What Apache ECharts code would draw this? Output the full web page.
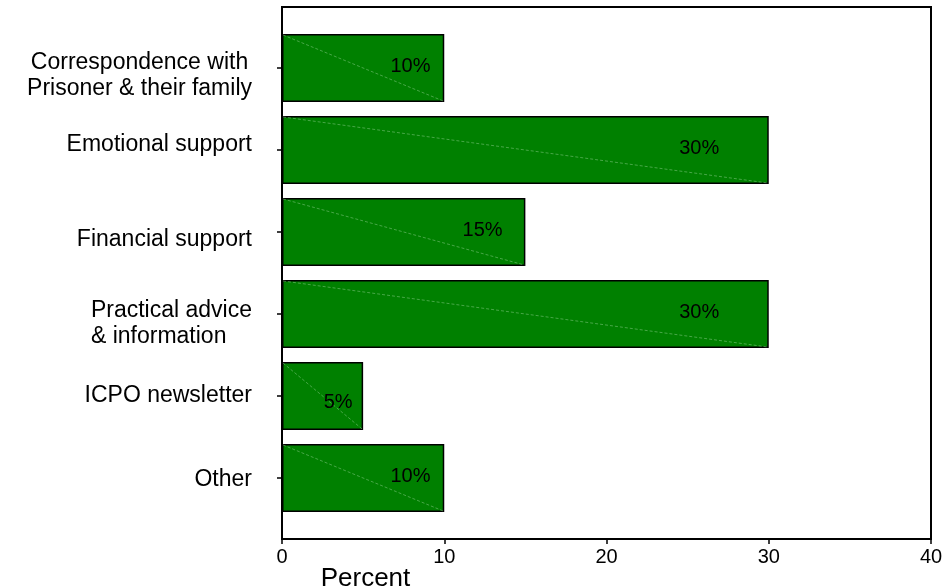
<!DOCTYPE html>
<html><head><meta charset="utf-8">
<script src="https://cdn.jsdelivr.net/npm/echarts/dist/echarts.min.js"></script>
<style>html,body{margin:0;padding:0;background:#fff}#c{width:945px;height:588px}</style>
</head><body><div id="c"></div>
<script>
// ---- data ----
const categories = ['Correspondence with\nPrisoner & their family', 'Emotional support', 'Financial support', 'Practical advice\n& information', 'ICPO newsletter', 'Other'];
const values = [10, 30, 15, 30, 5, 10];
const valueLabels = ['10%', '30%', '15%', '30%', '5%', '10%'];
const xMin = 0, xMax = 40, xStep = 10;
const xAxisName = 'Percent';

// ---- styling helpers (not data) ----
const FONT = '"Liberation Sans", Arial, sans-serif';
const lineAlign = { 0: 'ctr', 3: 'lft' };
const labelPad = { 0: [16, 0, 0, 0], 1: [0, 0, 10, 0], 2: [16, 0, 0, 0], 3: [20, 0, 0, 0], 5: [4, 0, 0, 0] };
const BAR_FRAC = 0.83;

const chart = echarts.init(document.getElementById('c'), null, { renderer: 'canvas' });
const richBase = { fontSize: 23, lineHeight: 26, fontFamily: FONT, color: '#000' };

chart.setOption({
  animation: false,
  backgroundColor: '#fff',
  grid: [
    { left: 282, right: 14, top: 27, height: 492, containLabel: false, outerBoundsMode: 'none' },
    { left: 282, right: 14, top: 7, bottom: 49, show: true, borderColor: '#000', borderWidth: 2, backgroundColor: 'transparent', outerBoundsMode: 'none' }
  ],
  xAxis: [
    {
      type: 'value', gridIndex: 0, min: xMin, max: xMax, interval: xStep, offset: 20,
      axisLine: { show: true, lineStyle: { color: '#000', width: 2 } },
      axisTick: { show: true, length: 5, lineStyle: { color: '#000', width: 1.5 } },
      axisLabel: { fontSize: 20, color: '#000', fontFamily: FONT, margin: 8 },
      splitLine: { show: false },
      name: xAxisName, nameLocation: 'middle', nameGap: 27, nameMoveOverlap: false,
      nameTextStyle: { fontSize: 26, color: '#000', fontFamily: FONT, padding: [0, 482, 0, 0] }
    },
    { type: 'value', gridIndex: 1, min: xMin, max: xMax, show: false }
  ],
  yAxis: [
    {
      type: 'category', gridIndex: 0, inverse: true,
      data: categories.map((c, i) => ({ value: c, textStyle: { padding: labelPad[i] || 0 } })),
      axisLine: { show: false },
      axisTick: { show: true, alignWithLabel: true, length: 5, lineStyle: { color: '#000', width: 1.5 } },
      axisLabel: {
        margin: 30, color: '#000', fontSize: 23, lineHeight: 26, fontFamily: FONT, align: 'right',
        formatter: function (val, idx) {
          const s = lineAlign[idx] || 'rt';
          return val.split('\n').map(l => '{' + s + '|' + l + '}').join('\n');
        },
        rich: {
          ctr: Object.assign({ align: 'center' }, richBase),
          lft: Object.assign({ align: 'left' }, richBase),
          rt: Object.assign({ align: 'right' }, richBase)
        }
      },
      splitLine: { show: false }
    },
    { type: 'value', gridIndex: 1, show: false }
  ],
  series: [
    {
      type: 'bar', xAxisIndex: 0, yAxisIndex: 0, data: values,
      barWidth: (BAR_FRAC * 100) + '%',
      itemStyle: { color: '#008000', borderColor: '#000', borderWidth: 1.5 },
      silent: true
    },
    {
      type: 'custom', xAxisIndex: 0, yAxisIndex: 0,
      data: values.map((v, i) => [v, i]),
      encode: { x: 0, y: 1 },
      silent: true,
      z: 3,
      renderItem: function (params, api) {
        const v = api.value(0), i = api.value(1);
        const end = api.coord([v, i]);
        const start = api.coord([0, i]);
        const band = api.size([0, 1])[1];
        const h = band * BAR_FRAC;
        const w = end[0] - start[0];
        const yTop = end[1] - h / 2, yBot = end[1] + h / 2;
        return {
          type: 'group',
          children: [
            { type: 'line', shape: { x1: start[0] + 1, y1: yTop + 1, x2: end[0] - 1, y2: yBot - 1 },
              style: { stroke: 'rgba(150,210,150,0.6)', lineWidth: 0.8, lineDash: [3, 2] } },
            { type: 'text', x: end[0] - (16 + 0.11 * w), y: end[1] - 2 + (w < 100 ? 8 : 0),
              style: { text: valueLabels[params.dataIndex], fill: '#000', fontSize: 20, fontFamily: FONT,
                       align: 'center', verticalAlign: 'middle' } }
          ]
        };
      }
    }
  ]
});
</script>
</body></html>
